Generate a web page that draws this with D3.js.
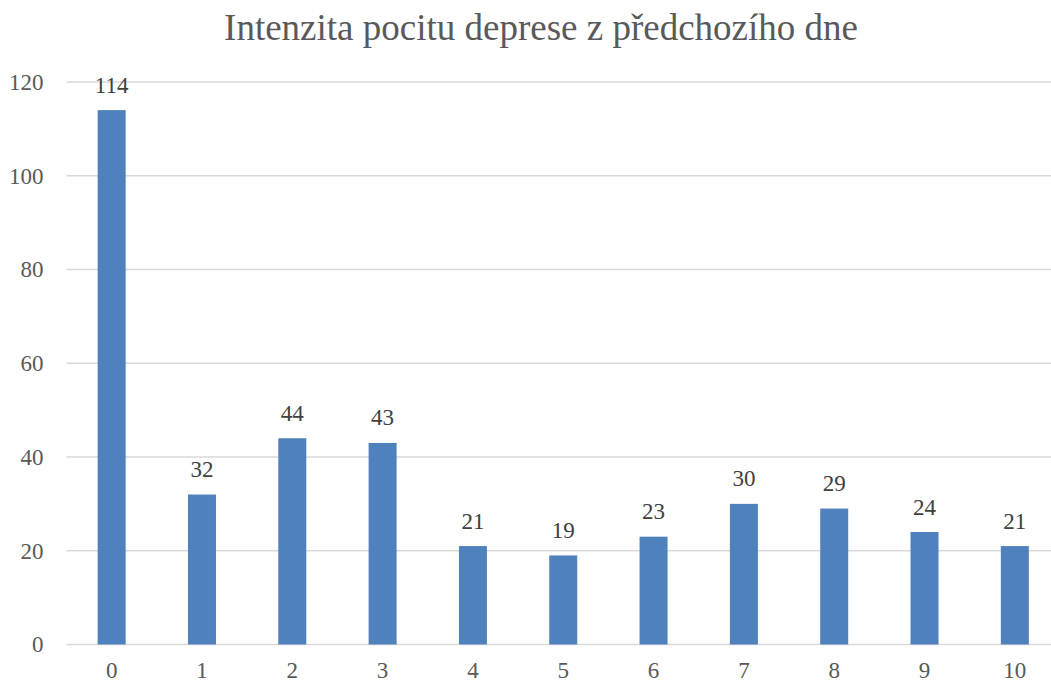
<!DOCTYPE html>
<html lang="en">
<head>
<meta charset="utf-8">
<title>Intenzita pocitu deprese</title>
<script src="https://d3js.org/d3.v7.min.js"></script>
<style>
  body { margin: 0; background: #fff; }
</style>
</head>
<body>
<script>
// categories and counts
var categories = ["0", "1", "2", "3", "4", "5", "6", "7", "8", "9", "10"];
var counts = [114, 32, 44, 43, 21, 19, 23, 30, 29, 24, 21];
var yTicks = [0, 20, 40, 60, 80, 100, 120];
var title = "Intenzita pocitu deprese z předchozího dne";

var serif = "'Liberation Serif', 'Times New Roman', serif";
var w = 1051, h = 682;
// plot area edges (note: "top" is reserved on window, so use plot* names)
var plotLeft = 66.5, plotRight = 1060, plotTop = 82, plotBottom = 644.5;

var svg = d3.select("body").append("svg")
  .attr("width", w)
  .attr("height", h)
  .style("font-family", serif);

var x = d3.scaleBand().domain(categories).range([plotLeft, plotRight]).paddingInner(0.69).paddingOuter(0.345);
var y = d3.scaleLinear().domain([0, 120]).range([plotBottom, plotTop]);

// gridlines
svg.append("g")
  .selectAll("line")
  .data(yTicks)
  .enter()
  .append("line")
  .attr("x1", plotLeft)
  .attr("x2", plotRight)
  .attr("y1", function (d) { return y(d); })
  .attr("y2", function (d) { return y(d); })
  .style("stroke", "#d9d9d9")
  .style("stroke-width", 1.5);

// bars
svg.append("g")
  .selectAll("rect")
  .data(counts)
  .enter()
  .append("rect")
  .attr("x", function (d, i) { return x(categories[i]); })
  .attr("y", function (d) { return y(d); })
  .attr("width", x.bandwidth())
  .attr("height", function (d) { return y(0) - y(d); })
  .attr("fill", "#4f81bd");

// value labels
svg.append("g")
  .selectAll("text")
  .data(counts)
  .enter()
  .append("text")
  .attr("x", function (d, i) { return x(categories[i]) + x.bandwidth() / 2; })
  .attr("y", function (d) { return y(d) - 17.5; })
  .attr("text-anchor", "middle")
  .style("font-family", serif)
  .style("font-size", "23px")
  .style("fill", "#404040")
  .text(function (d) { return d; });

// y axis
var yAxis = d3.axisLeft(y).tickValues(yTicks).tickSize(0).tickPadding(23);
svg.append("g")
  .attr("transform", "translate(" + plotLeft + ",0)")
  .call(yAxis)
  .call(function (g) { g.select(".domain").remove(); })
  .selectAll("text")
  .style("font-family", serif)
  .style("font-size", "23px")
  .style("fill", "#595959");

// x axis
var xAxis = d3.axisBottom(x).tickSize(0).tickPadding(17);
svg.append("g")
  .attr("transform", "translate(0," + plotBottom + ")")
  .call(xAxis)
  .call(function (g) { g.select(".domain").remove(); })
  .selectAll("text")
  .style("font-family", serif)
  .style("font-size", "23px")
  .style("fill", "#595959");

// title
svg.append("text")
  .attr("x", 541)
  .attr("y", 39.5)
  .attr("text-anchor", "middle")
  .style("font-family", serif)
  .style("font-size", "37px")
  .style("fill", "#595959")
  .text(title);
</script>
</body>
</html>
